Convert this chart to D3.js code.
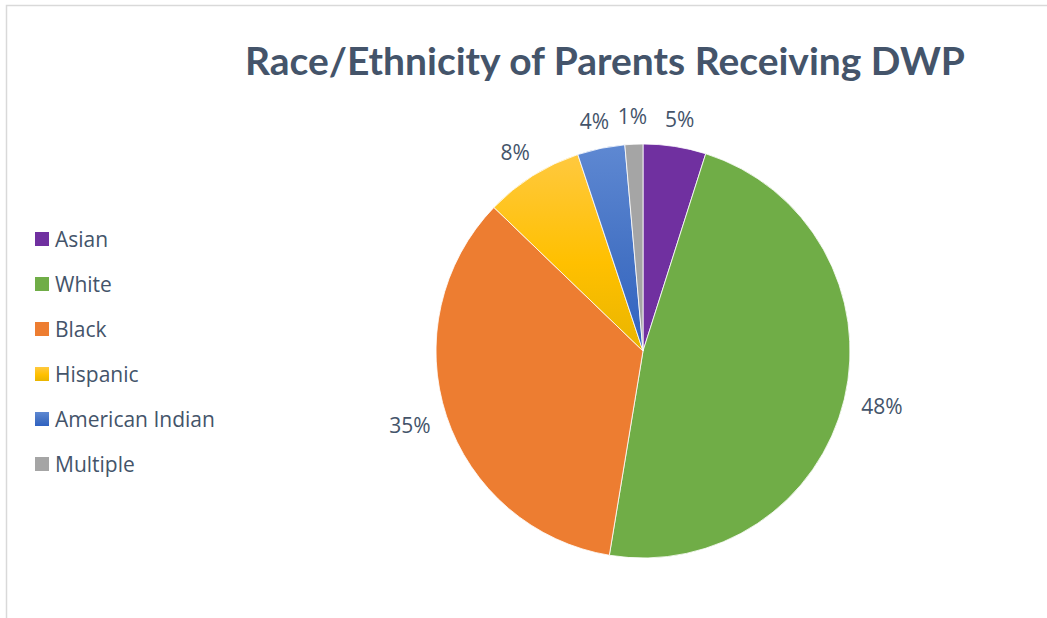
<!DOCTYPE html>
<html><head><meta charset="utf-8">
<script src="https://cdn.jsdelivr.net/npm/d3@7"></script>
<style>html,body{margin:0;padding:0;background:#fff;}svg{display:block;}</style>
</head><body>
<svg id="c" width="1047" height="618"></svg>
<script>
const categories = ["Asian","White","Black","Hispanic","American Indian","Multiple"];
const values = [4.9, 47.7, 34.6, 7.7, 3.7, 1.4];
const labels = ["5%","48%","35%","8%","4%","1%"];
const colors = ["#7030A0","#70AD47","#ED7D31","#FFC000","#4472C4","#A5A5A5"];
const gradTop = [null,null,null,"#FFC93F","#5E88D2",null];
const gradBot = [null,null,null,"#E9B500","#2F62C2",null];
const title = "Race/Ethnicity of Parents Receiving DWP";

const svg = d3.select("#c");
const textColor = "#44546A";
const font = "Lato, 'Open Sans', sans-serif";
const font2 = "'Open Sans', Lato, sans-serif";

svg.append("rect").attr("x",6.5).attr("y",5.5).attr("width",1100).attr("height",700)
  .attr("fill","#fff").attr("stroke","#D9D9D9").attr("stroke-width",1.5);

const t = svg.append("text").attr("x",605).attr("y",75).attr("text-anchor","middle")
  .attr("font-family",font).attr("font-weight","bold").attr("font-size",38)
  .attr("fill",textColor).text(title);
const tw = t.node().getComputedTextLength();
if (Math.abs(tw-720) > 4) t.attr("textLength",720).attr("lengthAdjust","spacingAndGlyphs");

const defs = svg.append("defs");
values.forEach((v,i)=>{
  if (!gradTop[i]) return;
  const g = defs.append("linearGradient").attr("id","g"+i).attr("x1",0).attr("y1",0).attr("x2",0).attr("y2",1);
  g.append("stop").attr("offset","0%").attr("stop-color",gradTop[i]);
  g.append("stop").attr("offset","55%").attr("stop-color",colors[i]);
  g.append("stop").attr("offset","100%").attr("stop-color",gradBot[i]);
});

const cx = 643, cy = 351, r = 207;
const data = categories.map((c,i)=>({cat:c, value:values[i], label:labels[i], i}));
const pie = d3.pie().value(d=>d.value).sort(null);
const arc = d3.arc().innerRadius(0).outerRadius(r);
const arcs = pie(data);
const gp = svg.append("g").attr("transform",`translate(${cx},${cy})`);
gp.selectAll("path").data(arcs).join("path")
  .attr("d",arc)
  .attr("fill",d=>gradTop[d.data.i] ? `url(#g${d.data.i})` : colors[d.data.i])
  .attr("stroke","#fff").attr("stroke-width",0.8);

const R = r + 18;
gp.selectAll("text.lbl").data(arcs).join("text").attr("class","lbl")
  .attr("font-family",font2).attr("font-size",21).attr("fill",textColor)
  .attr("text-anchor","middle").attr("dominant-baseline","central")
  .text(d=>d.data.label)
  .each(function(d){
    const a = (d.startAngle+d.endAngle)/2;
    const w = this.getComputedTextLength(), h = 20;
    const x = Math.sin(a)*R + Math.sin(a)*w/2;
    const y = -Math.cos(a)*R - Math.cos(a)*h/2;
    d3.select(this).attr("x",x).attr("y",y);
  });

const lg = svg.append("g").attr("transform","translate(35,239)");
const li = lg.selectAll("g").data(data).join("g").attr("transform",(d,i)=>`translate(0,${i*45})`);
li.append("rect").attr("x",0).attr("y",-7).attr("width",14).attr("height",14)
  .attr("fill",d=>gradTop[d.i] ? `url(#g${d.i})` : colors[d.i]);
li.append("text").attr("x",20).attr("y",0).attr("dominant-baseline","central")
  .attr("font-family",font2).attr("font-size",21).attr("fill",textColor).text(d=>d.cat);
</script>
</body></html>
